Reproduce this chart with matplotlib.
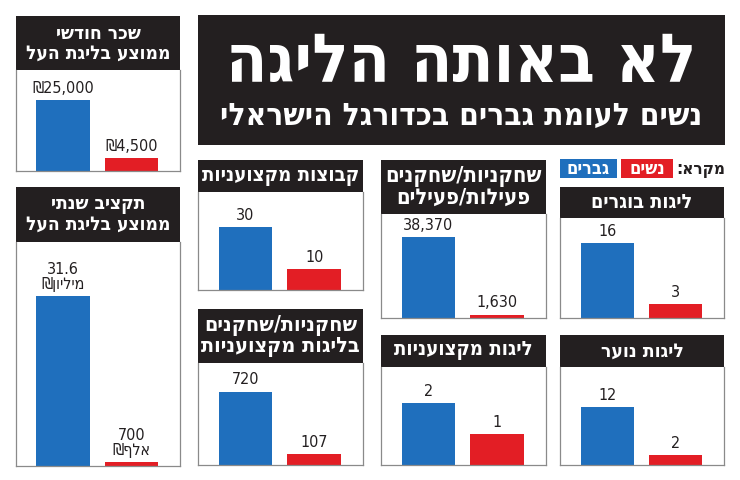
import re
import matplotlib
matplotlib.use("Agg")
import matplotlib.pyplot as plt
from matplotlib import font_manager as fm
from matplotlib.ft2font import FT2Font

# ---------------- data ----------------
main_title = "לא באותה הליגה"
subtitle = "נשים לעומת גברים בכדורגל הישראלי"
legend_caption = "מקרא:"
series_names = ["גברים", "נשים"]

panel_titles = [
    "שכר חודשי\nממוצע בליגת העל",
    "תקציב שנתי\nממוצע בליגת העל",
    "קבוצות מקצועניות",
    "שחקניות/שחקנים\nבליגות מקצועניות",
    "שחקניות/שחקנים\nפעילות/פעילים",
    "ליגות בוגרים",
    "ליגות מקצועניות",
    "ליגות נוער",
]
men_values = [25000, 31.6e6, 30, 720, 38370, 16, 2, 12]
women_values = [4500, 0.7e6, 10, 107, 1630, 3, 1, 2]
men_labels = ["25,000₪", "31.6\nמיליון₪", "30", "720", "38,370", "16", "2", "12"]
women_labels = ["4,500₪", "700\nאלף₪", "10", "107", "1,630", "3", "1", "2"]

# ---------------- layout (pixels) ----------------
W, H = 740, 480
# x0, y0, x1, y1, header bottom, fill fraction of tallest bar, header text width
panels = [
    (16, 16, 180, 171, 70, 0.70, 145),
    (16, 187, 180, 466, 242, 0.76, 145),
    (198, 160, 363, 290, 192, 0.64, 158),
    (198, 309, 363, 465, 363, 0.72, 158),
    (381, 160, 546, 318, 214, 0.78, 157),
    (560, 187, 724, 318, 218, 0.75, 102),
    (381, 335, 546, 465, 367, 0.63, 139),
    (560, 335, 724, 465, 367, 0.59, 83),
]
BLUE = "#1f6fbd"
RED = "#e31e25"
DARK = "#231f20"
BORDER = "#8a8a8a"


def visual(s):
    """Logical RTL string -> visual order for left-to-right rendering."""
    lines = []
    for line in s.split("\n"):
        toks = re.findall(r"[0-9][0-9.,]*|.", line)
        lines.append("".join(reversed(toks)))
    return "\n".join(lines)


# ---------------- fonts ----------------
def font_with(chars, prefer_bold):
    best, best_score = None, -1e9
    for f in fm.fontManager.ttflist:
        try:
            cm = FT2Font(f.fname).get_charmap()
        except Exception:
            continue
        if not all(ord(c) in cm for c in chars):
            continue
        name = (f.name + " " + f.fname).lower()
        score = 0
        if "condensed" in name or "narrow" in name or f.stretch == "condensed":
            score += 10
        if "semicondensed" in name or "extracondensed" in name:
            score -= 3
        w = f.weight if isinstance(f.weight, int) else (700 if "bold" in str(f.weight) else 400)
        score -= abs(w - (700 if prefer_bold else 400)) / 100.0
        if "oblique" in name or "italic" in name:
            score -= 20
        if "mono" in name or ("serif" in name and "sans" not in name):
            score -= 15
        if score > best_score:
            best, best_score = f, score
    return best


heb = "אבגדהוזחטיכלמנסעפצקרשת"
fb = font_with(heb, True)
fr = font_with(heb + "0123456789,.₪", False)
FP_BOLD = fm.FontProperties(fname=fb.fname) if fb else fm.FontProperties(family="DejaVu Sans", weight="bold")
FP_REG = fm.FontProperties(fname=fr.fname) if fr else fm.FontProperties(family="DejaVu Sans")

fig = plt.figure(figsize=(W / 100, H / 100), dpi=100)
fig.patch.set_facecolor("white")
renderer = fig.canvas.get_renderer()


def px_axes(x0, y0, x1, y1):
    return fig.add_axes([x0 / W, 1 - y1 / H, (x1 - x0) / W, (y1 - y0) / H])


def fit(t, max_fs, target_w):
    t.set_fontsize(max_fs)
    w = t.get_window_extent(renderer).width
    if w > target_w:
        t.set_fontsize(max_fs * target_w / w)


def black_box(ax):
    ax.set_facecolor(DARK)
    ax.set_xticks([])
    ax.set_yticks([])
    for s in ax.spines.values():
        s.set_visible(False)


# title box
tax = px_axes(198, 15, 725, 145)
black_box(tax)
t1 = tax.text(0.5, (145 - 82) / 130, visual(main_title), ha="center", va="baseline",
              color="white", fontproperties=FP_BOLD, transform=tax.transAxes)
fit(t1, 52, 470)
t2 = tax.text(0.5, (145 - 125) / 130, visual(subtitle), ha="center", va="baseline",
              color="white", fontproperties=FP_BOLD, transform=tax.transAxes)
fit(t2, 24, 481)

# legend
lc = fig.text(725 / W, 1 - 174 / H, visual(legend_caption), ha="right", va="baseline",
              fontproperties=FP_BOLD, color=DARK)
fit(lc, 14, 49)
for name, col, (lx0, lx1) in zip(series_names, [BLUE, RED], [(560, 617), (621, 673)]):
    lax = px_axes(lx0, 159, lx1, 178)
    black_box(lax)
    lax.set_facecolor(col)
    lt = lax.text(0.5, 0.5, visual(name), ha="center", va="center", color="white",
                  fontproperties=FP_BOLD, transform=lax.transAxes)
    fit(lt, 13, (lx1 - lx0) - 8)

# panels
for title, mv, wv, ml, wl, (x0, y0, x1, y1, hb, frac, tw) in zip(
        panel_titles, men_values, women_values, men_labels, women_labels, panels):
    hax = px_axes(x0, y0, x1, hb)
    black_box(hax)
    ht = hax.text(0.5, 0.5, visual(title), ha="center", va="center", color="white",
                  fontproperties=FP_BOLD, linespacing=1.05, transform=hax.transAxes)
    fit(ht, 16, tw)

    ax = px_axes(x0, hb, x1, y1)
    ax.bar([0, 1], [mv, wv], width=0.78, color=[BLUE, RED])
    ax.set_xlim(-0.69, 1.71)
    ax.set_ylim(0, mv / frac)
    ax.set_xticks([])
    ax.set_yticks([])
    for k, s in ax.spines.items():
        s.set_color(BORDER)
        s.set_linewidth(0.9)
    ax.spines["top"].set_visible(False)
    for xi, v, lab in zip([0, 1], [mv, wv], [ml, wl]):
        ax.annotate(visual(lab), (xi, v), xytext=(0, 3), textcoords="offset points",
                    ha="center", va="bottom", fontproperties=FP_REG, fontsize=11.5,
                    color=DARK, linespacing=1.0)

fig.savefig("out.png", dpi=100, facecolor="white")
